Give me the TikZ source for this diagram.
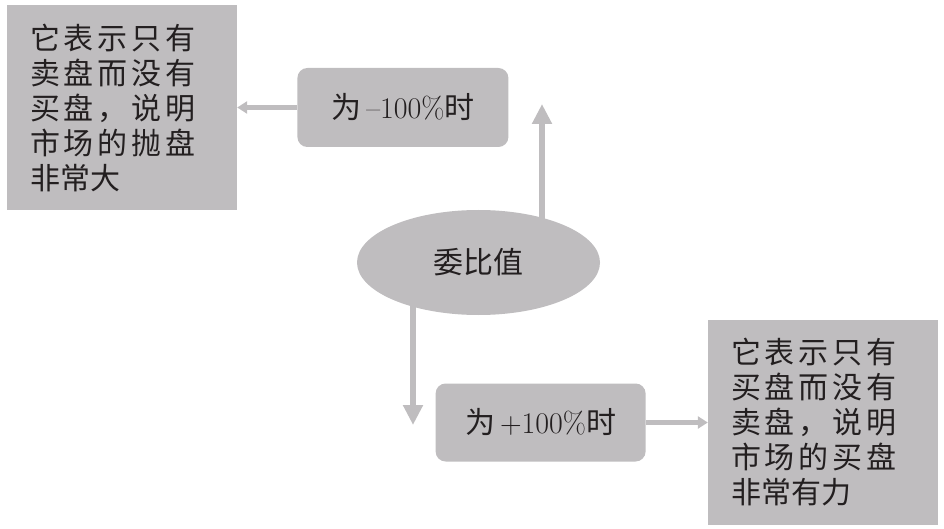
\documentclass[tikz,border=0pt]{standalone}
\usepackage{fontspec}
\newfontfamily\cjk{Noto Sans CJK SC}
\newfontfamily\cjkwide[LetterSpace=13]{Noto Sans CJK SC}
\usetikzlibrary{positioning,arrows.meta,shapes.geometric}
\definecolor{boxgray}{RGB}{191,189,191}
\definecolor{inkgray}{RGB}{35,31,32}

\begin{document}
\begin{tikzpicture}[
  x=1pt, y=-1pt,
  node distance=60pt and 60pt,
  bigbox/.style={fill=boxgray, minimum width=230pt, minimum height=205pt, text width=184pt, align=left, inner sep=0pt, font=\fontsize{30}{35}\selectfont\cjkwide, text=inkgray},
  box/.style={fill=boxgray, rounded corners=10pt, minimum width=211pt, minimum height=79pt, inner sep=0pt, font=\fontsize{30}{36}\selectfont, text=inkgray},
  arr/.style={-{Triangle[length=10pt,width=12pt]}, line width=4.5pt, draw=boxgray},
  varr/.style={-{Triangle[length=20pt,width=19pt]}, line width=6.5pt, draw=boxgray}
]
  \useasboundingbox (0,0) rectangle (944,529);

  \node[bigbox] (sellall) at (122,107.5) {它表示只有\\卖盘而没有\\买盘，说明\\市场的抛盘\\{\cjk 非常大}};
  \node[box, right=of sellall] (neg) {{\cjk 为}\hspace{5pt}--100\%{\cjk 时}};
  \node[ellipse, fill=boxgray, minimum width=243pt, minimum height=105pt, inner sep=0pt, font=\fontsize{30}{36}\selectfont\cjk, text=inkgray] (ratio) at (478.5,262.5) {委比值};
  \node[bigbox] (buyall) at (823,422.5) {它表示只有\\买盘而没有\\卖盘，说明\\市场的买盘\\{\cjk 非常有力}};
  \node[box, left=62pt of buyall, minimum width=210pt, minimum height=78pt] (pos) {{\cjk 为}\hspace{5pt}+100\%{\cjk 时}};

  \coordinate (uptip) at (542,104);
  \coordinate (dntip) at (413,425);

  \draw[varr] (uptip |- ratio.center) -- (uptip);
  \draw[varr] (dntip |- ratio.center) -- (dntip);
  \draw[arr] (neg.west) -- (sellall.east);
  \draw[arr] (pos.east) -- (pos.east -| buyall.west);
\end{tikzpicture}
\end{document}
